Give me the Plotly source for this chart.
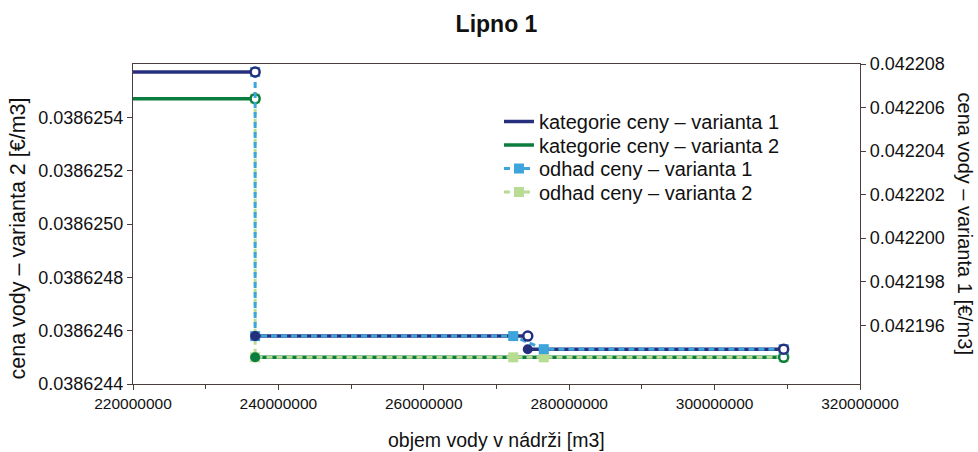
import plotly.graph_objects as go

# ---- data ----
kat_v1_breaks = [220e6, 236.8e6, 274.3e6, 309.5e6]
kat_v1_values = [0.04220763, 0.0421955, 0.0421949]
kat_v2_breaks = [220e6, 236.8e6, 309.5e6]
kat_v2_values = [0.03862547, 0.0386245]

odhad_x = [236.8e6, 236.8e6, 272.3e6, 276.5e6, 309.5e6]
odhad_v1 = [0.04220763, 0.0421955, 0.0421955, 0.0421949, 0.0421949]
odhad_v2 = [0.03862547, 0.0386245, 0.0386245, 0.0386245, 0.0386245]

NAVY = "#262f7c"
GREEN = "#0b7d3e"
LBLUE = "#3ea4dc"
LGREEN = "#b7dc92"
AX = "#4a3f3c"
FONT = "Liberation Sans, Arial, sans-serif"
TXT = "#111111"


def segments(breaks, values):
    xs, ys = [], []
    for i, v in enumerate(values):
        xs += [breaks[i], breaks[i + 1], None]
        ys += [v, v, None]
    return xs, ys


fig = go.Figure()

x1, y1 = segments(kat_v1_breaks, kat_v1_values)
x2, y2 = segments(kat_v2_breaks, kat_v2_values)

fig.add_trace(go.Scatter(x=x1, y=y1, mode="lines", name="kategorie ceny – varianta 1",
                         line=dict(color=NAVY, width=3.5), yaxis="y2", legend="legend"))
fig.add_trace(go.Scatter(x=x2, y=y2, mode="lines", name="kategorie ceny – varianta 2",
                         line=dict(color=GREEN, width=3.5), yaxis="y", legend="legend2"))

fig.add_trace(go.Scatter(x=odhad_x, y=odhad_v2, mode="lines+markers", name="odhad ceny – varianta 2",
                         line=dict(color=LGREEN, width=3, dash="6px,4px"),
                         marker=dict(symbol="square", size=10, color=LGREEN),
                         yaxis="y", legend="legend4"))
fig.add_trace(go.Scatter(x=odhad_x, y=odhad_v1, mode="lines+markers", name="odhad ceny – varianta 1",
                         line=dict(color=LBLUE, width=3, dash="6px,4px"),
                         marker=dict(symbol="square", size=10, color=LBLUE),
                         yaxis="y2", legend="legend3"))

# open circles at segment ends, filled circles at segment starts
fig.add_trace(go.Scatter(x=kat_v2_breaks[1:], y=kat_v2_values, mode="markers", showlegend=False,
                         marker=dict(symbol="circle", size=9, color="white", line=dict(color=GREEN, width=2.5)),
                         yaxis="y"))
fig.add_trace(go.Scatter(x=kat_v2_breaks[1:-1], y=kat_v2_values[1:], mode="markers", showlegend=False,
                         marker=dict(symbol="circle", size=10, color=GREEN), yaxis="y"))
fig.add_trace(go.Scatter(x=kat_v1_breaks[1:], y=kat_v1_values, mode="markers", showlegend=False,
                         marker=dict(symbol="circle", size=9, color="white", line=dict(color=NAVY, width=2.5)),
                         yaxis="y2"))
fig.add_trace(go.Scatter(x=kat_v1_breaks[1:-1], y=kat_v1_values[1:], mode="markers", showlegend=False,
                         marker=dict(symbol="circle", size=10, color=NAVY), yaxis="y2"))

LEG_X = 0.5034
leg_rows = [0.8203, 0.7469, 0.6734, 0.60]


def leg(yv):
    return dict(x=LEG_X, y=yv, xanchor="left", yanchor="middle", bgcolor="rgba(0,0,0,0)",
                font=dict(size=20, family=FONT, color=TXT), borderwidth=0)


fig.update_layout(
    width=978, height=452,
    margin=dict(l=133, r=118, t=64, b=68),
    paper_bgcolor="white", plot_bgcolor="white",
    font=dict(family=FONT, color=TXT),
    title=dict(text="<b>Lipno 1</b>", x=0.5, xref="paper", y=1 - 24 / 452, yref="container",
               yanchor="middle", xanchor="center", font=dict(size=23, family=FONT, color=TXT)),
    showlegend=True,
    legend=leg(leg_rows[0]), legend2=leg(leg_rows[1]),
    legend3=leg(leg_rows[2]), legend4=leg(leg_rows[3]),
    xaxis=dict(range=[220e6, 320e6], tickformat="d", dtick=20e6, tick0=220e6,
               showgrid=False, zeroline=False, showline=True, linecolor=AX, linewidth=1.2,
               mirror=True, ticks="outside", ticklen=5, tickcolor=AX,
               minor=dict(ticks="outside", ticklen=4, dtick=10e6, tickcolor=AX),
               tickfont=dict(size=15.5, family=FONT, color=TXT)),
    yaxis=dict(range=[0.0386244, 0.0386256], tickvals=[0.0386244, 0.0386246, 0.0386248, 0.038625,
                                                         0.0386252, 0.0386254],
               tickformat=".7f", showgrid=False, zeroline=False, showline=True, linecolor=AX,
               linewidth=1.2, ticks="outside", ticklen=5, tickcolor=AX,
               tickfont=dict(size=18, family=FONT, color=TXT)),
    yaxis2=dict(range=[0.0421933, 0.042208], overlaying="y", side="right",
                tickvals=[0.042196, 0.042198, 0.0422, 0.042202, 0.042204, 0.042206, 0.042208],
                tickformat=".6f", showgrid=False, zeroline=False, showline=True, linecolor=AX,
                linewidth=1.2, ticks="outside", ticklen=5, tickcolor=AX,
                tickfont=dict(size=18, family=FONT, color=TXT)),
    annotations=[
        dict(text="cena vody – varianta 2 [€/m3]", xref="paper", yref="paper", x=-0.158, y=0.455,
             textangle=-90, showarrow=False, xanchor="center", yanchor="middle",
             font=dict(size=21.5, family=FONT, color=TXT)),
        dict(text="cena vody – varianta 1 [€/m3]", xref="paper", yref="paper", x=1.145, y=0.5,
             textangle=90, showarrow=False, xanchor="center", yanchor="middle",
             font=dict(size=20, family=FONT, color=TXT)),
        dict(text="objem vody v nádrži [m3]", xref="paper", yref="paper", x=0.5, y=-0.175,
             showarrow=False, xanchor="center", yanchor="middle",
             font=dict(size=19.5, family=FONT, color=TXT)),
    ],
)

fig.write_html("out.html")
